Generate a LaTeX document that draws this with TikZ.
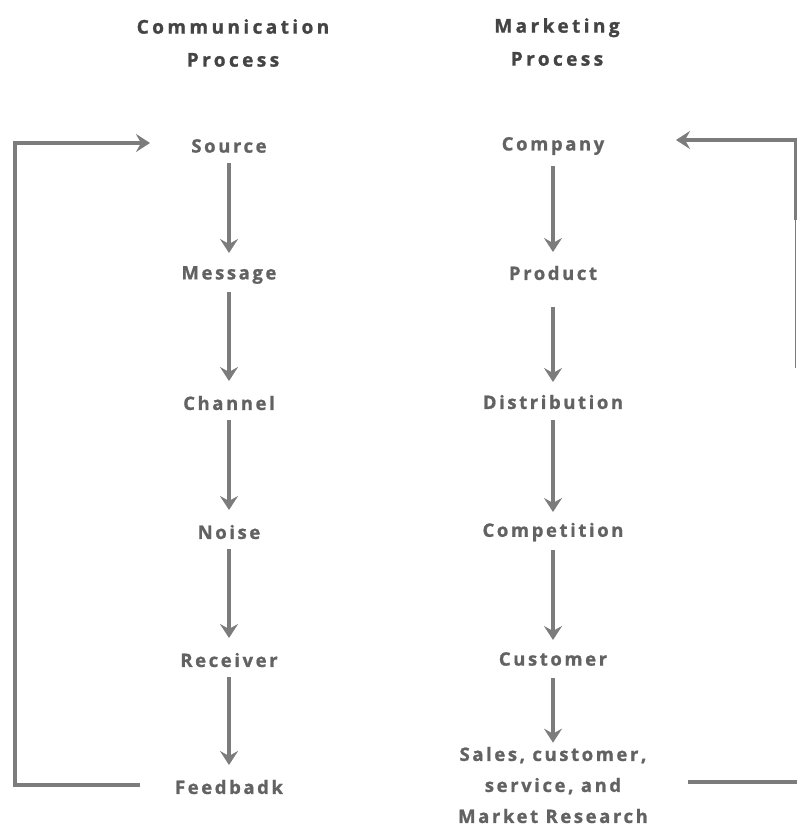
\documentclass[tikz,border=0pt]{standalone}
\usepackage{fontspec}
\setmainfont{Open Sans}
\usetikzlibrary{arrows.meta,calc}
\definecolor{linegray}{HTML}{7C7C7C}
\definecolor{txtgray}{HTML}{626262}
\definecolor{headgray}{HTML}{444444}
\newfontfamily\spacedfont[LetterSpace=14,FakeBold=1]{Open Sans}
\newfontfamily\headfont[LetterSpace=18,FakeBold=1.2]{Open Sans}
\begin{document}
\begin{tikzpicture}[x=1pt,y=-1pt,
  lbl/.style={text=txtgray,font=\spacedfont\bfseries\fontsize{18.5}{31}\selectfont,inner sep=0pt,align=center},
  head/.style={text=headgray,font=\headfont\bfseries\fontsize{19}{33}\selectfont,inner sep=0pt,align=center},
  flow/.style={draw=linegray,line width=4pt,-{Stealth[length=14pt,width=18pt,inset=5pt]}},
  loop/.style={draw=linegray,line width=4pt},
  thinloop/.style={draw=linegray,line width=1.5pt}]
\useasboundingbox (0,0) rectangle (797,827);
\fill[white] (0,0) rectangle (797,827);
% headers
\node[head] (hc) at (233,43) {Communication\\Process};
\node[head] (hm) at (557,42) {Marketing\\Process};
% communication column
\node[lbl] (src) at (229,146) {Source};
\node[lbl] (msg) at (229,275) {Message};
\node[lbl] (chn) at (229,403) {Channel};
\node[lbl] (noi) at (229,532) {Noise};
\node[lbl] (rcv) at (229,660) {Receiver};
\node[lbl] (fbk) at (229,787) {Feedbadk};
% marketing column
\node[lbl] (cmp) at (553,146) {Company};
\node[lbl] (prd) at (553,273) {Product};
\node[lbl] (dst) at (553,402) {Distribution};
\node[lbl] (cpt) at (553,532) {Competition};
\node[lbl] (cst) at (553,659) {Customer};
\node[lbl] (sls) at (553,785) {Sales, customer,\\service, and\\Market Research};
% arrows left
\draw[flow] ($(src.center)+(0,17)$) -- ($(msg.center)+(0,-22)$);
\draw[flow] ($(msg.center)+(0,17)$) -- ($(chn.center)+(0,-22)$);
\draw[flow] ($(chn.center)+(0,17)$) -- ($(noi.center)+(0,-22)$);
\draw[flow] ($(noi.center)+(0,17)$) -- ($(rcv.center)+(0,-22)$);
\draw[flow] ($(rcv.center)+(0,17)$) -- ($(fbk.center)+(0,-22)$);
% arrows right
\draw[flow] ($(cmp.center)+(0,20)$) -- ($(prd.center)+(0,-21)$);
\draw[flow] ($(prd.center)+(0,34)$) -- ($(dst.center)+(0,-20)$);
\draw[flow] ($(dst.center)+(0,18)$) -- ($(cpt.center)+(0,-20)$);
\draw[flow] ($(cpt.center)+(0,18)$) -- ($(cst.center)+(0,-19)$);
\draw[flow] ($(cst.center)+(0,19)$) -- ($(sls.north)+(0,-4)$);
% feedback loop left
\coordinate (fbL) at (140,785);
\coordinate (srcL) at (150,143);
\draw[loop,-{Stealth[length=14pt,width=18pt,inset=5pt]}] (fbL) -- (15,785) -- (15,143) -- (srcL);
% feedback loop right
\coordinate (slsR) at (688,782);
\coordinate (cmpR) at (676,140);
\draw[loop] (slsR) -- (797,782);
\draw[thinloop] (795.5,368) -- (795.5,218);
\draw[loop,-{Stealth[length=14pt,width=18pt,inset=5pt]}] (795.5,220) -- (795.5,140) -- (cmpR);
\end{tikzpicture}
\end{document}
